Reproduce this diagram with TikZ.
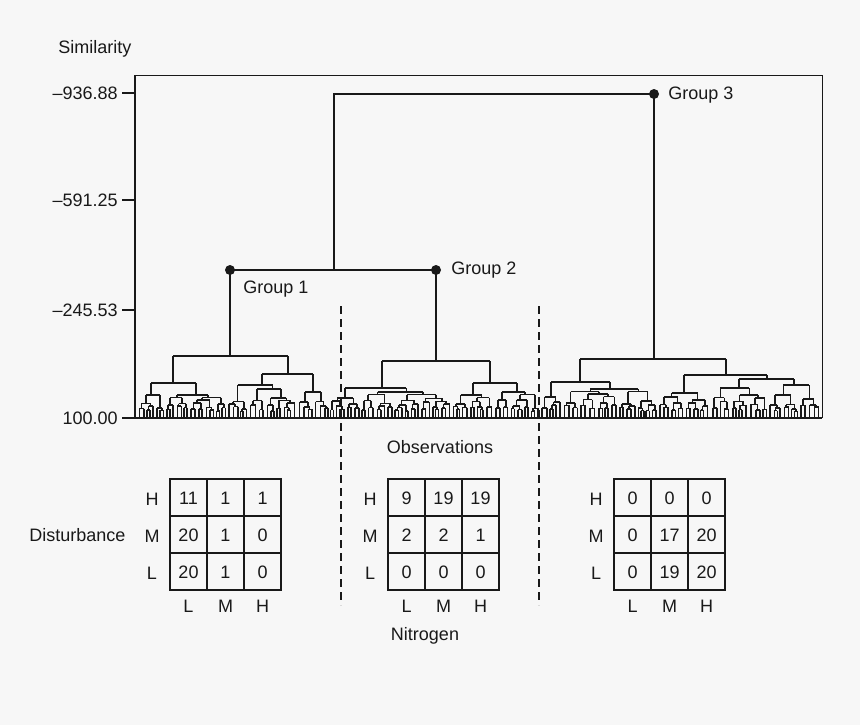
\documentclass[tikz,border=0pt]{standalone}
\usepackage{fontspec}
\setmainfont{Liberation Sans}
\definecolor{bg}{RGB}{247,247,247}
\definecolor{ink}{RGB}{25,25,25}
\newcommand\leafw{5.4}
\newcommand\dsub[4]{%
 \begingroup
 \pgfmathsetmacro\dsa{#1}%
 \pgfmathsetmacro\dsb{#2}%
 \pgfmathsetmacro\dstop{#3}%
 \pgfmathsetmacro\dsbar{#4}%
 \pgfmathsetmacro\dsc{(\dsa+\dsb)/2}%
 \pgfmathsetmacro\dsw{\dsb-\dsa}%
 \ifdim\dsw pt<\leafw pt
   \draw[dend] (\dsc,\dstop) -- (\dsc,418);
 \else
   \pgfmathsetmacro\dsm{\dsa+\dsw*(0.3+0.4*rnd)}%
   \pgfmathsetmacro\dslc{(\dsa+\dsm)/2}%
   \pgfmathsetmacro\dsrc{(\dsm+\dsb)/2}%
   \draw[dend] (\dsc,\dstop) -- (\dsc,\dsbar) (\dslc,\dsbar) -- (\dsrc,\dsbar);
   \pgfmathsetmacro\dsyl{max(418-3.0*(\dsm-\dsa)^0.6*(0.8+0.4*rnd),\dsbar+2.5)}%
   \pgfmathsetmacro\dsyr{max(418-3.0*(\dsb-\dsm)^0.6*(0.8+0.4*rnd),\dsbar+2.5)}%
   \edef\dsnext{\noexpand\dsub{\dsa}{\dsm}{\dsbar}{\dsyl}\noexpand\dsub{\dsm}{\dsb}{\dsbar}{\dsyr}}%
   \dsnext
 \fi
 \endgroup}
\begin{document}
\begin{tikzpicture}[x=0.5pt,y=-0.5pt,
  lbl/.style={font=\fontsize{9}{11}\selectfont, inner sep=0pt, text=ink},
  dend/.style={line width=0.8pt, draw=ink},
  axisline/.style={line width=0.75pt, draw=ink},
  frameline/.style={line width=0.45pt, draw=ink},
  cellgrid/.style={line width=0.75pt, draw=ink},
  divider/.style={line width=0.6pt, draw=ink, dash pattern=on 4pt off 2.5pt},
  dot/.style={circle, fill=ink, inner sep=0pt, minimum size=5pt}]
\fill[bg] (0,0) rectangle (860,725);
\useasboundingbox (0,0) rectangle (860,725);
\pgfmathsetseed{7}

% axis and frame
\coordinate (ax-top) at (135,75);
\coordinate (ax-bot) at (135,418);
\coordinate (fr-tr) at (822,75);
\coordinate (fr-br) at (822,418);
\coordinate (base-l) at (122,418);
\draw[frameline] (ax-top) -- (fr-tr) -- (fr-br);
\draw[axisline] (ax-top) -- (ax-bot);
\node[lbl, anchor=west] (simlab) at (58,49) {Similarity};
\foreach \yy/\tt [count=\k] in {93/{–936.88},200/{–591.25},310/{–245.53},418/{100.00}} {
  \coordinate (tk\k) at (122,\yy);
  \coordinate (tke\k) at (135,\yy);
  \draw[axisline] (tk\k) -- (tke\k);
  \node[lbl, anchor=east] (tl\k) at (118,\yy) {\tt};
}

% dividers
\coordinate (d1t) at (341,306);
\coordinate (d1b) at (341,605);
\coordinate (d2t) at (539,306);
\coordinate (d2b) at (539,605);
\draw[divider] (d1t) -- (d1b);
\draw[divider] (d2t) -- (d2b);

% group nodes
\node[dot] (g1) at (230,270) {};
\node[dot] (g2) at (436,270) {};
\node[dot] (g3) at (654,94) {};
\node[lbl, anchor=west] (g1lab) at (243,289) {Group 1};
\node[lbl, anchor=west] (g2lab) at (451,270) {Group 2};
\node[lbl, anchor=west] (g3lab) at (668,95) {Group 3};
\coordinate (j3) at (334,94);
\coordinate (j12) at (334,270);
\draw[dend] (g1.center) -- (g2.center);
\draw[dend] (g3.center) -- (j3) -- (j12);

% Group 1 subtree
\coordinate (g1b) at (230,356);
\draw[dend] (g1.center) -- (g1b);
\draw[dend] (173,356) -- (288,356);
\draw[dend] (173,356) -- (173,383) (151,383) -- (196,383);
\dsub{137}{165}{383}{395}
\dsub{165}{227}{383}{395}
\draw[dend] (288,356) -- (288,374) (262,374) -- (313,374);
\dsub{227}{297}{374}{385}
\dsub{297}{329}{374}{392}

% Group 2 subtree
\coordinate (g2b) at (436,361);
\draw[dend] (g2.center) -- (g2b);
\draw[dend] (382,361) -- (490,361);
\draw[dend] (382,361) -- (382,388) (345,388) -- (406,388);
\dsub{329}{361}{388}{398}
\dsub{361}{452}{388}{392}
\draw[dend] (490,361) -- (490,383) (473,383) -- (517,383);
\dsub{452}{494}{383}{395}
\dsub{494}{540}{383}{392}

% Group 3 subtree
\coordinate (g3b) at (654,359);
\draw[dend] (g3.center) -- (g3b);
\draw[dend] (580,359) -- (726,359);
\draw[dend] (580,359) -- (580,382) (551,382) -- (610,382);
\dsub{540}{562}{382}{397}
\dsub{562}{658}{382}{389}
\draw[dend] (726,359) -- (726,375) (684,375) -- (767,375);
\dsub{658}{710}{375}{393}
\draw[dend] (767,375) -- (767,379) (739,379) -- (794,379);
\dsub{710}{768}{379}{388}
\dsub{768}{820}{379}{385}

% baseline
\draw[axisline] (base-l) -- (fr-br);

% labels
\node[lbl] (obs) at (440,447) {Observations};
\node[lbl] (nitro) at (425,636) {Nitrogen};
\node[lbl, anchor=west] (dist) at (29,535) {Disturbance};

% tables
\foreach \tx/\tn/\vals in {170/a/{11,1,1,20,1,0,20,1,0},388/b/{9,19,19,2,2,1,0,0,0},614/c/{0,0,0,0,17,20,0,19,20}} {
  \draw[cellgrid] (\tx,479) rectangle ++(111,111);
  \draw[cellgrid] (\tx+37,479) -- ++(0,111) (\tx+74,479) -- ++(0,111)
                  (\tx,516) -- ++(111,0) (\tx,553) -- ++(111,0);
  \foreach \v [count=\i from 0] in \vals {
    \pgfmathtruncatemacro\rr{\i/3}
    \pgfmathtruncatemacro\cc{mod(\i,3)}
    \node[lbl] (t\tn-\rr-\cc) at ({\tx+18.5+37*\cc},{498+37*\rr}) {\v};
  }
  \foreach \lab [count=\j from 0] in {H,M,L} {
    \node[lbl] (t\tn-r\j) at ({\tx-18},{499+37*\j}) {\lab};
  }
  \foreach \lab [count=\j from 0] in {L,M,H} {
    \node[lbl] (t\tn-c\j) at ({\tx+18.5+37*\j},606) {\lab};
  }
}
\end{tikzpicture}
\end{document}
